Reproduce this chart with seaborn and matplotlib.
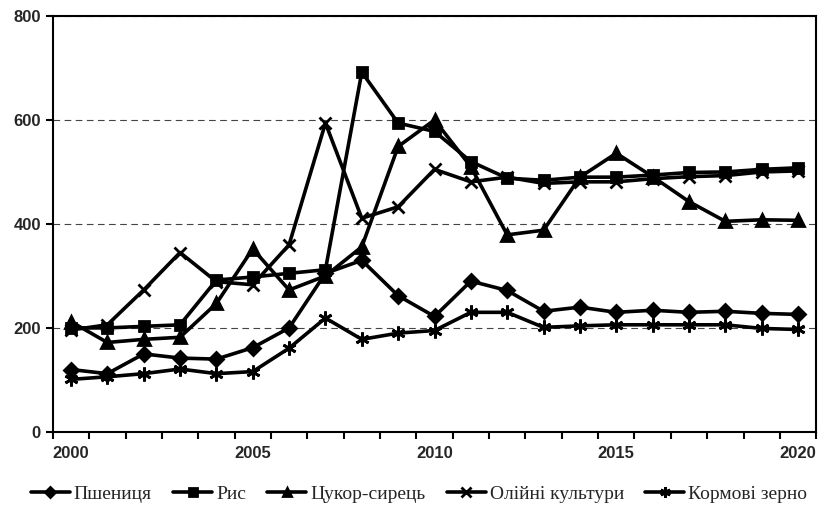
import numpy as np
import pandas as pd
import matplotlib
matplotlib.use("Agg")
import matplotlib.pyplot as plt
import seaborn as sns

years = list(range(2000, 2021))
wheat = [120, 112, 150, 142, 140, 162, 200, 305, 330, 262, 222, 290, 272, 232, 240, 230, 234, 230, 232, 228, 226]
rice = [200, 200, 203, 206, 292, 298, 305, 312, 692, 594, 578, 520, 488, 484, 490, 490, 494, 499, 500, 505, 508]
sugar = [212, 172, 178, 182, 247, 352, 273, 300, 356, 549, 600, 510, 379, 388, 490, 536, 491, 443, 405, 408, 407]
oil = [196, 206, 273, 345, 289, 283, 360, 594, 411, 433, 505, 481, 490, 478, 481, 481, 487, 491, 493, 500, 502]
feed = [101, 106, 112, 121, 112, 116, 161, 219, 178, 190, 195, 230, 230, 201, 204, 206, 206, 206, 206, 199, 197]

names = ["Пшениця", "Рис", "Цукор-сирець", "Олійні культури", "Кормові зерно"]
series = [wheat, rice, sugar, oil, feed]
y_ticks = [0, 200, 400, 600, 800]
x_labels = [2000, 2005, 2010, 2015, 2020]

sns.set_style("white")
plt.rcParams["font.family"] = ["Liberation Sans", "DejaVu Sans"]

fig = plt.figure(figsize=(8.38, 5.16), dpi=100)
ax = fig.add_axes([0.063, 0.163, 0.911, 0.806])

marker_list = ["D", "s", "^", "x", (6, 2, 0)]
size_list = [7, 7, 8, 9, 10]

for name, vals, mk, ms in zip(names, series, marker_list, size_list):
    d = pd.DataFrame({"year": years, "value": vals})
    sns.lineplot(data=d, x="year", y="value", color="black", marker=mk,
                 markersize=ms, markeredgewidth=2.0, markeredgecolor="black",
                 markerfacecolor="black", linewidth=2.6, label=name, ax=ax)

ax.set_xlim(1999.5, 2020.5)
ax.set_ylim(0, 800)
ax.set_xticks(x_labels)
ax.set_xticks(np.arange(1999.5, 2021, 1), minor=True)
ax.tick_params(axis="x", which="major", length=0, pad=10)
ax.tick_params(axis="x", which="minor", bottom=True, length=5, width=1.5, direction="out", color="black")
ax.set_yticks(y_ticks)
ax.tick_params(axis="y", which="major", left=True, length=5, width=1.5, direction="out", color="black")
for lab in ax.get_xticklabels() + ax.get_yticklabels():
    lab.set_fontweight("bold")
    lab.set_fontsize(12)
ax.set_xlabel("")
ax.set_ylabel("")
for s in ax.spines.values():
    s.set_color("black")
    s.set_linewidth(1.5)
ax.grid(axis="y", color="#444444", linestyle=(0, (6, 4)), linewidth=0.8)
ax.set_axisbelow(True)

handles, labels = ax.get_legend_handles_labels()
ax.legend_.remove()
fig.legend(handles, labels, loc="center", bbox_to_anchor=(0.5, 0.043), ncol=5,
           frameon=False, handlelength=2.0, handletextpad=0.2, columnspacing=1.1,
           markerscale=0.75,
           prop={"family": "Liberation Serif", "size": 14})

fig.savefig("out.png", dpi=100)
